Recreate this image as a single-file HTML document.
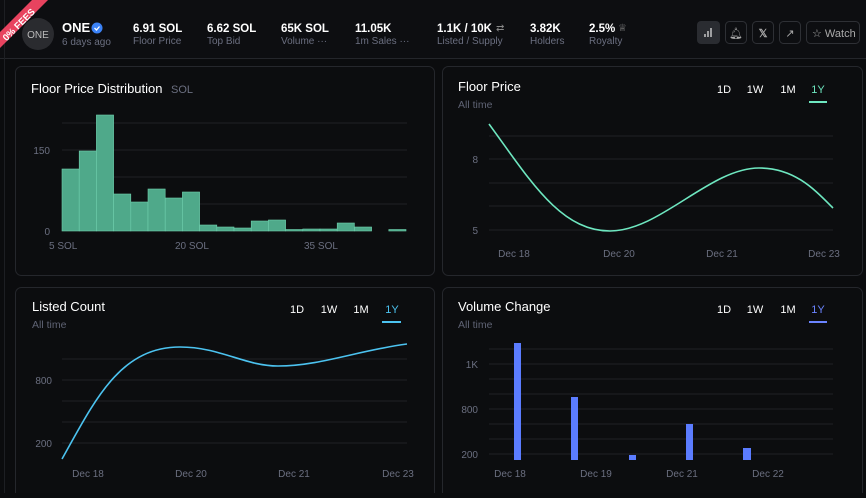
<!DOCTYPE html><html><head><meta charset="utf-8"><style>
body{margin:0;width:866px;height:493px;overflow:hidden;background:#0b0c0e;font-family:"Liberation Sans",sans-serif}
</style></head><body>
<svg width="866" height="493" xmlns="http://www.w3.org/2000/svg" font-family="Liberation Sans, sans-serif">
<rect width="866" height="493" fill="#0b0c0e"/>
<rect x="0" y="0" width="866" height="58" fill="#0d0e11"/>
<line x1="0" y1="58.5" x2="866" y2="58.5" stroke="#24262b"/>
<line x1="4.5" y1="0" x2="4.5" y2="493" stroke="#1d1f23"/>
<circle cx="38" cy="34" r="16" fill="#2a2b2f"/>
<text x="38" y="38" fill="#bbb" font-size="10" text-anchor="middle">ONE</text>
<polygon points="0,32 0,48 48,0 32,0" fill="#e8435f"/>
<text transform="translate(21,27) rotate(-45)" fill="#fff" font-size="9.5" font-weight="bold" text-anchor="middle">0% FEES</text>
<text x="62" y="32" fill="#fff" font-size="13" font-weight="bold">ONE</text>
<circle cx="97" cy="28" r="5.5" fill="#3b82f6"/><path d="M94.5 28l2 2 3-3.5" stroke="#fff" stroke-width="1.3" fill="none"/>
<text x="62" y="45" fill="#6b6f80" font-size="10">6 days ago</text>
<g font-size="11.5" font-weight="bold" fill="#fff">
<text x="133" y="32">6.91 SOL</text><text x="207" y="32">6.62 SOL</text><text x="281" y="32">65K SOL</text><text x="355" y="32">11.05K</text><text x="437" y="32">1.1K / 10K</text><text x="530" y="32">3.82K</text><text x="589" y="32">2.5%</text></g>
<g font-size="10" fill="#6b6f80">
<text x="133" y="44">Floor Price</text><text x="207" y="44">Top Bid</text><text x="281" y="44">Volume ···</text><text x="355" y="44">1m Sales ···</text><text x="437" y="44">Listed / Supply</text><text x="530" y="44">Holders</text><text x="589" y="44">Royalty</text></g>
<text x="496" y="31" fill="#888" font-size="10">⇄</text><text x="618" y="31" fill="#888" font-size="10">♕</text>
<rect x="697" y="21" width="23" height="23" rx="4" fill="#2a2c31"/>
<path d="M705 37v-3M708 37v-6M711 37v-9" stroke="#ddd" stroke-width="1.3"/>
<g fill="none" stroke="#2e3035"><rect x="725.5" y="21.5" width="21" height="22" rx="4"/><rect x="752.5" y="21.5" width="21" height="22" rx="4"/><rect x="779.5" y="21.5" width="21" height="22" rx="4"/><rect x="806.5" y="21.5" width="53" height="22" rx="4"/></g>
<text x="736" y="37" fill="#aaa" font-size="11" text-anchor="middle">🔔︎</text>
<text x="763" y="37" fill="#aaa" font-size="11" text-anchor="middle" font-weight="bold">𝕏</text>
<text x="790" y="37" fill="#aaa" font-size="11" text-anchor="middle">↗</text>
<text x="812" y="37" fill="#aaa" font-size="11">☆ Watch</text>

<g fill="#0c0d0f" stroke="#25272c">
<rect x="15.5" y="66.5" width="419" height="209" rx="6"/><rect x="442.5" y="66.5" width="420" height="209" rx="6"/>
<rect x="15.5" y="287.5" width="419" height="220" rx="6"/><rect x="442.5" y="287.5" width="420" height="220" rx="6"/></g>

<text x="31" y="93" fill="#fff" font-size="13">Floor Price Distribution</text><text x="171" y="93" fill="#6b6f80" font-size="11">SOL</text>
<g stroke="#1f2125"><line x1="62" y1="123" x2="407" y2="123"/><line x1="62" y1="150" x2="407" y2="150"/><line x1="62" y1="177" x2="407" y2="177"/><line x1="62" y1="204" x2="407" y2="204"/></g>
<g fill="#4fa98a" stroke="#6fd0ad" stroke-width="0.6">
<rect x="62" y="169" width="17.2" height="62"/><rect x="79.2" y="151" width="17.2" height="80"/><rect x="96.4" y="115" width="17.2" height="116"/><rect x="113.6" y="194" width="17.2" height="37"/><rect x="130.8" y="202" width="17.2" height="29"/><rect x="148" y="189" width="17.2" height="42"/><rect x="165.2" y="198" width="17.2" height="33"/><rect x="182.4" y="192" width="17.2" height="39"/><rect x="199.6" y="225" width="17.2" height="6"/><rect x="216.8" y="227" width="17.2" height="4"/><rect x="234" y="228" width="17.2" height="3"/><rect x="251.2" y="221" width="17.2" height="10"/><rect x="268.4" y="220" width="17.2" height="11"/><rect x="285.6" y="229.5" width="17.2" height="1.5"/><rect x="302.8" y="229" width="17.2" height="2"/><rect x="320" y="229" width="17.2" height="2"/><rect x="337.2" y="223" width="17.2" height="8"/><rect x="354.4" y="227" width="17.2" height="4"/><rect x="388.8" y="229.5" width="17.2" height="1.5"/></g>
<g fill="#6b6f80" font-size="10"><text x="50" y="154" text-anchor="end">150</text><text x="50" y="235" text-anchor="end">0</text>
<text x="49" y="249">5 SOL</text><text x="175" y="249">20 SOL</text><text x="304" y="249">35 SOL</text></g>

<text x="458" y="91" fill="#fff" font-size="13">Floor Price</text><text x="458" y="108" fill="#5f6374" font-size="10.5">All time</text>
<g fill="#fff" font-size="11" text-anchor="middle"><text x="724" y="93">1D</text><text x="755" y="93">1W</text><text x="788" y="93">1M</text><text x="818" y="93" fill="#6ee7c0">1Y</text></g>
<rect x="809" y="101" width="18" height="2" fill="#6ee7c0"/>
<g stroke="#1f2125"><line x1="489" y1="136" x2="833" y2="136"/><line x1="489" y1="159" x2="833" y2="159"/><line x1="489" y1="183" x2="833" y2="183"/><line x1="489" y1="206" x2="833" y2="206"/><line x1="489" y1="230" x2="833" y2="230"/></g>
<path d="M489 124C530 180 560 231 610 231C660 231 710 168 759 168C795 168 815 190 833 208" fill="none" stroke="#6ee7c0" stroke-width="1.6"/>
<g fill="#6b6f80" font-size="10"><text x="478" y="163" text-anchor="end">8</text><text x="478" y="234" text-anchor="end">5</text>
<g text-anchor="middle"><text x="514" y="257">Dec 18</text><text x="619" y="257">Dec 20</text><text x="722" y="257">Dec 21</text><text x="824" y="257">Dec 23</text></g></g>

<text x="32" y="311" fill="#fff" font-size="13">Listed Count</text><text x="32" y="328" fill="#5f6374" font-size="10.5">All time</text>
<g fill="#fff" font-size="11" text-anchor="middle"><text x="297" y="313">1D</text><text x="329" y="313">1W</text><text x="361" y="313">1M</text><text x="392" y="313" fill="#4cc3f0">1Y</text></g>
<rect x="382" y="321" width="19" height="2" fill="#4cc3f0"/>
<g stroke="#1f2125"><line x1="62" y1="359" x2="407" y2="359"/><line x1="62" y1="380" x2="407" y2="380"/><line x1="62" y1="401" x2="407" y2="401"/><line x1="62" y1="422" x2="407" y2="422"/><line x1="62" y1="443" x2="407" y2="443"/></g>
<path d="M62 459C95 400 120 347 180 347C220 347 245 366 278 366C320 366 360 350 407 344" fill="none" stroke="#4cc3f0" stroke-width="1.6"/>
<g fill="#6b6f80" font-size="10"><text x="52" y="384" text-anchor="end">800</text><text x="52" y="447" text-anchor="end">200</text>
<g text-anchor="middle"><text x="88" y="477">Dec 18</text><text x="191" y="477">Dec 20</text><text x="294" y="477">Dec 21</text><text x="398" y="477">Dec 23</text></g></g>

<text x="458" y="311" fill="#fff" font-size="13">Volume Change</text><text x="458" y="328" fill="#5f6374" font-size="10.5">All time</text>
<g fill="#fff" font-size="11" text-anchor="middle"><text x="724" y="313">1D</text><text x="755" y="313">1W</text><text x="788" y="313">1M</text><text x="818" y="313" fill="#6b84ff">1Y</text></g>
<rect x="809" y="321" width="18" height="2" fill="#6b84ff"/>
<g stroke="#1f2125"><line x1="489" y1="349" x2="833" y2="349"/><line x1="489" y1="364" x2="833" y2="364"/><line x1="489" y1="379" x2="833" y2="379"/><line x1="489" y1="394" x2="833" y2="394"/><line x1="489" y1="409" x2="833" y2="409"/><line x1="489" y1="424" x2="833" y2="424"/><line x1="489" y1="439" x2="833" y2="439"/><line x1="489" y1="454" x2="833" y2="454"/></g>
<g fill="#5b7cff"><rect x="514" y="343" width="7" height="117"/><rect x="571" y="397" width="7" height="63"/><rect x="629" y="455" width="7" height="5"/><rect x="686" y="424" width="7" height="36"/><rect x="743" y="448" width="8" height="12"/></g>
<g fill="#6b6f80" font-size="10"><text x="478" y="368" text-anchor="end">1K</text><text x="478" y="413" text-anchor="end">800</text><text x="478" y="458" text-anchor="end">200</text>
<g text-anchor="middle"><text x="510" y="477">Dec 18</text><text x="596" y="477">Dec 19</text><text x="682" y="477">Dec 21</text><text x="768" y="477">Dec 22</text></g></g>
</svg></body></html>
